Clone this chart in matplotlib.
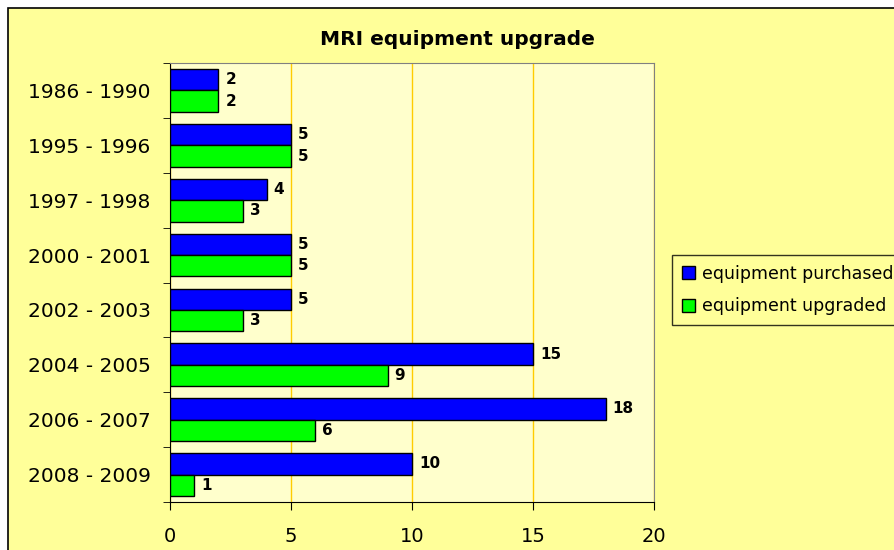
import numpy as np
import matplotlib.pyplot as plt
from matplotlib.patches import Rectangle

periods = ["1986 - 1990", "1995 - 1996", "1997 - 1998", "2000 - 2001",
           "2002 - 2003", "2004 - 2005", "2006 - 2007", "2008 - 2009"]
purchased = [2, 5, 4, 5, 5, 15, 18, 10]
upgraded = [2, 5, 3, 5, 3, 9, 6, 1]

W, H = 894, 550
fig = plt.figure(figsize=(W / 100, H / 100), dpi=100)
fig.patch.set_facecolor("white")

# chart area (cut off at right and bottom, like the screenshot)
fig.patches.append(Rectangle((8 / W, -0.1), 1.2, 1 - 8 / H + 0.1,
                             transform=fig.transFigure, facecolor="#FFFF99",
                             edgecolor="black", linewidth=1.2, zorder=-5))

ax = fig.add_axes([170 / W, 1 - 502 / H, (654 - 170) / W, (502 - 63) / H])
ax.set_facecolor("#FFFFCC")

y = np.arange(len(periods))
h = 0.39
b1 = ax.barh(y - h / 2, purchased, height=h, color="#0000FF", edgecolor="black",
             linewidth=1, label="equipment purchased", zorder=3)
b2 = ax.barh(y + h / 2, upgraded, height=h, color="#00FF00", edgecolor="black",
             linewidth=1, label="equipment upgraded", zorder=3)

for bars, vals in ((b1, purchased), (b2, upgraded)):
    for bar, v in zip(bars, vals):
        ax.annotate(str(v), (v, bar.get_y() + bar.get_height() / 2),
                    xytext=(5, 0), textcoords="offset points", va="center",
                    ha="left", fontsize=11, fontweight="bold")

ax.set_xlim(0, 20)
ax.set_ylim(len(periods) - 0.5, -0.5)
ax.set_xticks(range(0, 21, 5))
ax.set_yticks(y)
ax.set_yticklabels(periods)
ax.set_yticks(np.arange(-0.5, len(periods)), minor=True)
ax.tick_params(axis="y", which="major", length=0, pad=14, labelsize=14.5)
ax.tick_params(axis="y", which="minor", length=5, direction="out")
ax.tick_params(axis="x", length=6, direction="out", pad=12, labelsize=14)

ax.grid(axis="x", color="#FFCC00", linewidth=1, zorder=1)
ax.set_axisbelow(True)
ax.spines["top"].set_color("#808080")
ax.spines["right"].set_color("#808080")

# title sits right of the plot centre in the original
fig.text(457.5 / W, 1 - 45 / H, "MRI equipment upgrade", ha="center",
         va="baseline", fontsize=14.5, fontweight="bold")

leg = fig.legend(loc="upper left", bbox_to_anchor=(672 / W, 1 - 255 / H),
                 fontsize=12.5, frameon=True, fancybox=False, handlelength=0.8,
                 handleheight=0.8, handletextpad=0.4, borderpad=0.55,
                 labelspacing=0.85, borderaxespad=0)
leg.get_frame().set_edgecolor("black")
leg.get_frame().set_facecolor("#FFFF99")
leg.get_frame().set_linewidth(1)

fig.savefig("out.png", dpi=100, facecolor=fig.get_facecolor())
